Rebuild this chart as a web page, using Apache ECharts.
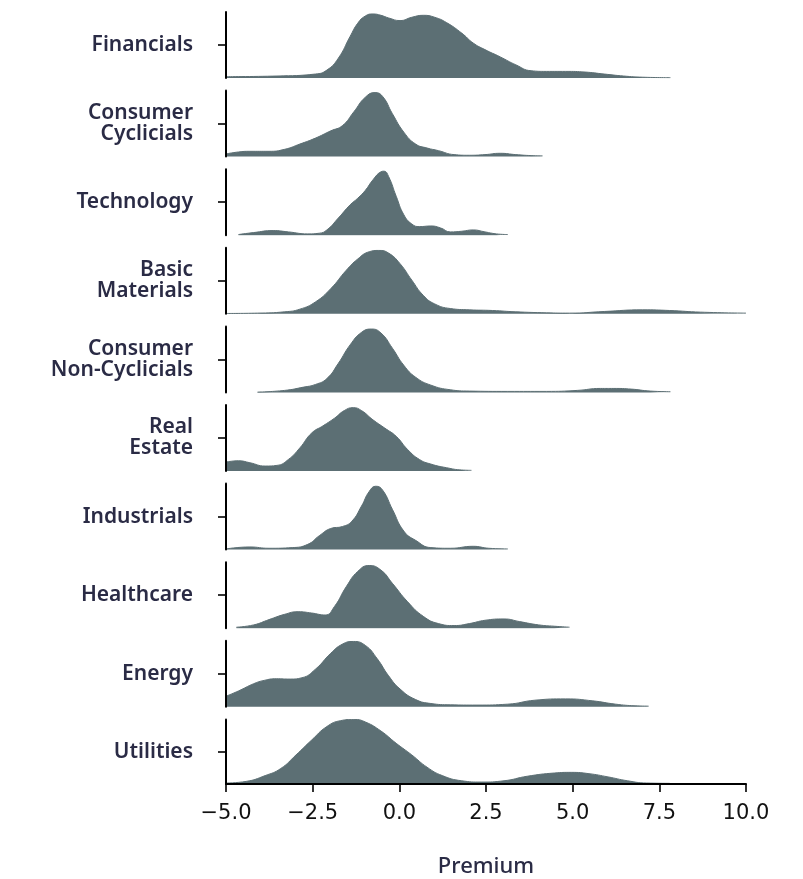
<!DOCTYPE html>
<html>
<head>
<meta charset="utf-8">
<title>Premium by sector</title>
<script src="https://cdn.jsdelivr.net/npm/echarts@6/dist/echarts.min.js"></script>
<style>
  html, body { margin: 0; padding: 0; background: #ffffff; }
  #chart { width: 803px; height: 879px; }
</style>
</head>
<body>
<div id="chart"></div>
<script>
// Sector names, top to bottom
const sectors = [
  'Financials',
  'Consumer\nCyclicials',
  'Technology',
  'Basic\nMaterials',
  'Consumer\nNon-Cyclicials',
  'Real\nEstate',
  'Industrials',
  'Healthcare',
  'Energy',
  'Utilities'
];

// Density curves: [premium, relative density] (1 = full panel height)
const financials = [[-5,0.02],[-3.53,0.03],[-2.42,0.06],[-2.09,0.12],[-1.76,0.30],[-1.42,0.63],[-1.2,0.83],[-0.98,0.94],[-0.76,0.97],[-0.53,0.95],[-0.31,0.91],[0.02,0.87],[0.36,0.92],[0.69,0.95],[1.02,0.92],[1.36,0.84],[1.8,0.68],[2.13,0.53],[2.47,0.43],[2.91,0.32],[3.36,0.20],[3.8,0.11],[4.24,0.10],[4.8,0.10],[5.36,0.09],[5.91,0.06],[6.47,0.03],[7.02,0.012],[7.82,0.005]];
const consumerCyclicals = [[-5,0.04],[-4.64,0.07],[-4.31,0.08],[-3.76,0.08],[-3.31,0.11],[-2.87,0.19],[-2.42,0.28],[-1.98,0.39],[-1.64,0.47],[-1.31,0.68],[-0.98,0.90],[-0.7,0.97],[-0.48,0.91],[-0.2,0.65],[0.13,0.37],[0.47,0.19],[0.8,0.13],[1.13,0.09],[1.58,0.03],[2.02,0.02],[2.47,0.03],[2.91,0.05],[3.36,0.03],[3.8,0.015],[4.13,0.01]];
const technology = [[-4.64,0.01],[-4.2,0.04],[-3.64,0.07],[-3.2,0.05],[-2.64,0.02],[-2.31,0.03],[-2.09,0.08],[-1.76,0.26],[-1.42,0.46],[-1.2,0.56],[-0.98,0.68],[-0.76,0.84],[-0.53,0.96],[-0.44,0.97],[-0.31,0.89],[-0.09,0.59],[0.13,0.31],[0.36,0.17],[0.58,0.13],[0.91,0.14],[1.19,0.11],[1.47,0.05],[1.8,0.06],[2.13,0.08],[2.47,0.05],[2.8,0.02],[3.13,0.01]];
const basicMaterials = [[-5,0.005],[-4.09,0.01],[-3.31,0.03],[-2.87,0.07],[-2.42,0.18],[-1.98,0.38],[-1.53,0.66],[-1.2,0.83],[-0.87,0.94],[-0.59,0.96],[-0.31,0.92],[0.02,0.76],[0.36,0.51],[0.69,0.28],[1.02,0.15],[1.47,0.08],[2.02,0.06],[2.69,0.05],[3.36,0.03],[4.24,0.015],[4.91,0.01],[5.91,0.035],[7.02,0.06],[7.8,0.05],[8.69,0.025],[10,0.01]];
const consumerNonCyclicals = [[-4.09,0.005],[-3.31,0.03],[-2.76,0.08],[-2.42,0.12],[-2.09,0.21],[-1.76,0.44],[-1.42,0.72],[-1.09,0.91],[-0.81,0.96],[-0.53,0.90],[-0.2,0.67],[0.13,0.41],[0.47,0.23],[0.91,0.11],[1.47,0.04],[2.02,0.02],[3.13,0.015],[4.24,0.015],[5.13,0.03],[5.8,0.06],[6.19,0.06],[6.69,0.05],[7.24,0.02],[7.82,0.01]];
const realEstate = [[-5,0.135],[-4.64,0.155],[-4.31,0.125],[-3.87,0.075],[-3.53,0.085],[-3.2,0.175],[-2.87,0.35],[-2.53,0.575],[-2.2,0.685],[-1.87,0.80],[-1.59,0.915],[-1.33,0.96],[-1.09,0.915],[-0.76,0.775],[-0.42,0.65],[-0.09,0.525],[0.24,0.325],[0.58,0.175],[0.91,0.105],[1.36,0.05],[1.8,0.015],[2.08,0.01]];
const industrials = [[-5,0.01],[-4.31,0.04],[-3.76,0.02],[-3.09,0.03],[-2.64,0.08],[-2.31,0.21],[-1.98,0.32],[-1.64,0.35],[-1.37,0.43],[-1.09,0.66],[-0.87,0.88],[-0.68,0.96],[-0.48,0.90],[-0.2,0.61],[0.13,0.28],[0.47,0.14],[0.91,0.03],[1.47,0.02],[2.13,0.05],[2.58,0.02],[3.13,0.01]];
const healthcare = [[-4.7,0.015],[-4.2,0.05],[-3.76,0.13],[-3.31,0.21],[-2.92,0.25],[-2.53,0.23],[-2.14,0.20],[-1.87,0.33],[-1.53,0.63],[-1.2,0.86],[-0.87,0.95],[-0.53,0.88],[-0.2,0.68],[0.24,0.40],[0.69,0.18],[1.13,0.07],[1.58,0.04],[2.02,0.07],[2.47,0.12],[3.02,0.14],[3.47,0.10],[4.02,0.05],[4.47,0.03],[4.91,0.015]];
const energy = [[-5,0.16],[-4.64,0.24],[-4.2,0.35],[-3.9,0.40],[-3.55,0.425],[-3.15,0.42],[-2.81,0.44],[-2.42,0.57],[-1.98,0.81],[-1.64,0.95],[-1.33,0.99],[-0.98,0.93],[-0.64,0.73],[-0.31,0.47],[0.02,0.27],[0.47,0.11],[0.91,0.05],[1.47,0.03],[2.24,0.026],[3.13,0.04],[3.91,0.10],[4.8,0.12],[5.58,0.09],[6.24,0.04],[6.8,0.015],[7.19,0.01]];
const utilities = [[-5,0.015],[-4.42,0.04],[-3.87,0.13],[-3.42,0.24],[-2.98,0.45],[-2.53,0.68],[-2.09,0.89],[-1.7,0.98],[-1.31,1.0],[-0.98,0.96],[-0.53,0.82],[-0.09,0.63],[0.36,0.45],[0.8,0.26],[1.24,0.13],[1.8,0.05],[2.36,0.03],[3.02,0.05],[3.69,0.12],[4.47,0.17],[4.97,0.18],[5.47,0.16],[6.02,0.11],[6.58,0.05],[7.13,0.015],[7.8,0.01]];

const curves = [financials, consumerCyclicals, technology, basicMaterials, consumerNonCyclicals,
                realEstate, industrials, healthcare, energy, utilities];

// Premium axis
const xMin = -5;
const xMax = 10;
const xStep = 2.5;
const xTitle = 'Premium';

// Panel layout
const plotLeft = 226;
const plotWidth = 520;
const firstTop = 12;
const rowStep = 78.6;
const panelHeight = 66;
const fillColor = '#5c6f74';
const labelColor = '#2a2b45';
const labelFont = '"Noto Sans", "Open Sans", sans-serif';

const chart = echarts.init(document.getElementById('chart'), null, { renderer: 'canvas' });

const grids = [], xAxes = [], yAxes = [], series = [];
const last = sectors.length - 1;

sectors.forEach((name, i) => {
  grids.push({
    left: plotLeft,
    width: plotWidth,
    top: firstTop + rowStep * i,
    height: panelHeight,
    containLabel: false
  });
  const isLast = i === last;
  xAxes.push({
    type: 'value',
    gridIndex: i,
    min: xMin,
    max: xMax,
    interval: xStep,
    show: true,
    z: 5,
    name: isLast ? xTitle : '',
    nameLocation: 'middle',
    nameGap: 72,
    nameTextStyle: { fontFamily: labelFont, fontSize: 22, fontWeight: 500, color: labelColor },
    axisLine: { show: isLast, onZero: false, lineStyle: { color: '#000', width: 2 } },
    axisTick: { show: isLast, length: 8, lineStyle: { color: '#000', width: 1.6 } },
    axisLabel: {
      show: isLast,
      margin: 19,
      fontFamily: '"DejaVu Sans", sans-serif',
      fontSize: 21,
      color: '#111',
      formatter: v => v.toFixed(1).replace('-', '\u2212')
    },
    splitLine: { show: false }
  });
  yAxes.push({
    type: 'value',
    gridIndex: i,
    min: 0,
    max: 1,
    z: 5,
    name: name,
    nameLocation: 'middle',
    nameRotate: 0,
    nameGap: 33,
    nameTextStyle: {
      fontFamily: labelFont,
      fontSize: 21,
      fontWeight: 600,
      color: labelColor,
      align: 'right',
      verticalAlign: 'middle',
      lineHeight: 21
    },
    axisLine: { show: true, onZero: false, lineStyle: { color: '#000', width: 2 } },
    axisTick: { show: true, length: 8, customValues: [0.5], lineStyle: { color: '#000', width: 1.6 } },
    axisLabel: { show: false },
    splitLine: { show: false }
  });
  series.push({
    type: 'line',
    xAxisIndex: i,
    yAxisIndex: i,
    data: curves[i],
    smooth: 0.5,
    symbol: 'none',
    silent: true,
    lineStyle: { color: fillColor, width: 1 },
    areaStyle: { color: fillColor, opacity: 1, origin: 'start' },
    z: 2
  });
});

chart.setOption({
  backgroundColor: '#ffffff',
  animation: false,
  grid: grids,
  xAxis: xAxes,
  yAxis: yAxes,
  series: series
});
</script>
</body>
</html>
